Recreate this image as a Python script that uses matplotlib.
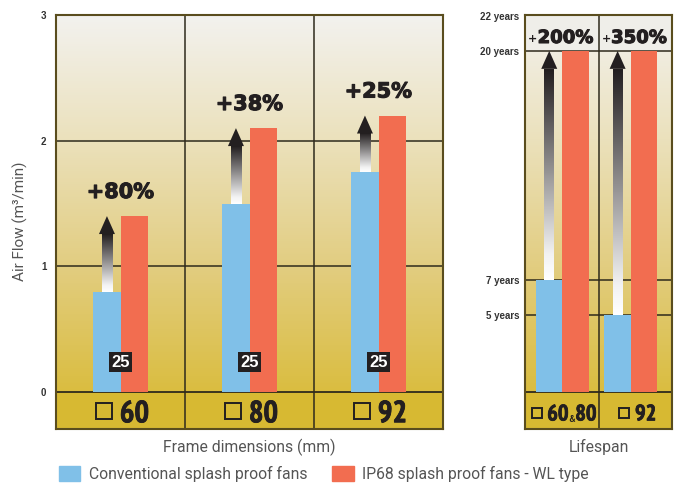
#!/usr/bin/env python3

import matplotlib
matplotlib.use("Agg")
import matplotlib.pyplot as plt
import matplotlib.patheffects as pe
import numpy as np
from matplotlib import font_manager
from matplotlib.colors import LinearSegmentedColormap
from matplotlib.patches import Patch

# Air flow panel (m3/min), one entry per frame size
frame_sizes = ["60", "80", "92"]
airflow_conventional = [0.8, 1.5, 1.75]
airflow_ip68 = [1.4, 2.1, 2.2]
airflow_gain = ["+80%", "+38%", "+25%"]
frame_depth = "25"
airflow_ticks = [0, 1, 2, 3]

# Lifespan panel (years)
lifespan_sizes = [("60", "80"), ("92",)]
lifespan_conventional = [7, 5]
lifespan_ip68 = [20, 20]
lifespan_gain = ["200%", "350%"]
lifespan_ticks = [5, 7, 20, 22]

BLUE = "#80C0E8"
RED = "#F26D50"
BAND = "#D7B932"
INK = "#231F20"
GRID = "#2E2A1C"
LABEL = "#555555"


def pick_family(candidates: list, min_weight: int = 400) -> str:
    """Returns the first installed family that has the wanted weight."""
    found = set()
    for f in font_manager.fontManager.ttflist:
        w = f.weight
        if isinstance(w, str):
            w = font_manager.weight_dict.get(w, 400)
        if w >= min_weight:
            found.add(f.name)
    for name in candidates:
        if name in found:
            return name
    return "DejaVu Sans"


NARROW_FONT = pick_family(["Liberation Sans Narrow", "PT Sans Narrow",
                           "Arial Narrow", "Nimbus Sans Narrow",
                           "Liberation Sans"], 700)
TICK_FONT = pick_family(["Liberation Sans", "Arimo"], 700)
BIG_FONT = "DejaVu Sans"
HEAVY = [pe.withStroke(linewidth=0.8, foreground=INK)]
HEAVIER = [pe.withStroke(linewidth=0.6, foreground=INK)]

bg_cmap = LinearSegmentedColormap.from_list(
    "panel", [(0.0, "#DABD40"), (0.33, "#E2CD80"),
              (0.67, "#EBE1BC"), (1.0, "#F3F2EF")])
arrow_cmap = LinearSegmentedColormap.from_list(
    "arrow", [(0.0, "#FFFFFF"), (0.12, "#F2F2F2"), (1.0, INK)])


def style_panel(ax, ylim: tuple, base: float, nsec: int) -> None:
    """Gradient background, bottom band, frame and dividers."""
    ax.imshow(np.linspace(0, 1, 256).reshape(-1, 1), origin="lower",
              cmap=bg_cmap, aspect="auto", zorder=0,
              extent=(0, nsec, base, ylim[1]))
    ax.axhspan(ylim[0], base, color=BAND, zorder=0.5, lw=0)
    ax.axhline(base, color=GRID, lw=1.3, zorder=1.5)
    for i in range(1, nsec):
        ax.axvline(i, color=GRID, lw=1.1, zorder=1.5)
    ax.set_xlim(0, nsec)
    ax.set_ylim(*ylim)
    ax.set_xticks([])
    ax.tick_params(axis="y", length=0, labelsize=7, labelcolor="#333333")
    for spine in ax.spines.values():
        spine.set_color("#5A4D1E")
        spine.set_linewidth(1.5)
        spine.set_path_effects([
            pe.SimplePatchShadow(offset=(1.2, -1.2), shadow_rgbFace="#888888",
                                 alpha=0.7),
            pe.Normal()])


def bold_ticks(ax) -> None:
    for label in ax.get_yticklabels():
        label.set_fontfamily(TICK_FONT)
        label.set_fontweight("bold")


def gain_arrow(ax, x: float, y0: float, y1: float, shaft_w: float,
               head_w: float, head_h: float) -> None:
    """Arrow from the conventional bar top up to the IP68 bar top."""
    ax.imshow(np.linspace(0, 1, 128).reshape(-1, 1), origin="lower",
              cmap=arrow_cmap, aspect="auto", zorder=3,
              extent=(x - shaft_w / 2, x + shaft_w / 2, y0, y1 - head_h))
    ax.fill([x - head_w / 2, x + head_w / 2, x],
            [y1 - head_h, y1 - head_h, y1], color=INK, lw=0, zorder=3)


def size_label(ax, x_box: float, x_num: float, y_box: float, y_num: float,
               parts: tuple, box_ms: float, size: float) -> None:
    """Square symbol followed by the frame size in the bottom band."""
    ax.plot([x_box], [y_box], marker="s", ms=box_ms, mfc="none", mec=INK,
            mew=1.4, zorder=4)
    style = dict(fontweight="bold", family=NARROW_FONT, color=INK)
    txt = ax.text(x_num, y_num, parts[0], ha="left", va="baseline",
                  fontsize=size, zorder=4, path_effects=HEAVIER, **style)
    for part in parts[1:]:
        amp = ax.annotate("&", xy=(1, 0), xycoords=txt, ha="left",
                          va="bottom", fontsize=size * 0.45, **style)
        txt = ax.annotate(part, xy=(1, 0), xycoords=amp, ha="left",
                          va="bottom", fontsize=size, path_effects=HEAVIER,
                          **style)


def main() -> None:
    plt.rcParams["font.family"] = ["Roboto", "DejaVu Sans"]
    fig = plt.figure(figsize=(6.79, 4.86), dpi=100)

    # ---- air flow panel ----
    ax = fig.add_axes([56 / 679, 57 / 486, 387 / 679, 414 / 486])
    air_ylim = (-0.294, 3.0)
    style_panel(ax, air_ylim, 0.0, len(frame_sizes))
    for y in airflow_ticks[1:-1]:
        ax.axhline(y, color=GRID, lw=1.1, zorder=1.5)
    ax.set_yticks(airflow_ticks)
    ax.set_yticklabels([str(t) for t in airflow_ticks])
    ax.tick_params(axis="y", pad=7)
    bold_ticks(ax)

    centers = np.arange(len(frame_sizes)) + 0.5
    bw = 0.21
    ax.bar(centers - bw / 2, airflow_conventional, bw, color=BLUE, zorder=2)
    ax.bar(centers + bw / 2, airflow_ip68, bw, color=RED, zorder=2)
    for i, c in enumerate(centers):
        gain_arrow(ax, c - bw / 2, airflow_conventional[i], airflow_ip68[i],
                   0.078, 0.124, 0.143)
        ax.annotate(airflow_gain[i], (c, airflow_ip68[i]), xytext=(0, 13),
                    textcoords="offset points", ha="center", va="baseline",
                    fontsize=15, fontweight="bold", family=BIG_FONT,
                    color=INK, zorder=4, path_effects=HEAVY)
        ax.text(c, 0.239, frame_depth, ha="center", va="center",
                fontsize=12, fontweight="bold", family=TICK_FONT,
                color="white", zorder=4,
                bbox=dict(boxstyle="square,pad=0.15", fc=INK, ec="none"))
        size_label(ax, c - 0.13, c - 0.005, -0.151, -0.24,
                   (frame_sizes[i],), 11.5, 22)
    ax.set_xlabel("Frame dimensions (mm)", fontsize=11.3, color=LABEL,
                  labelpad=7)

    # ---- lifespan panel ----
    ax2 = fig.add_axes([525 / 679, 57 / 486, 147 / 679, 414 / 486])
    life_ylim = (-1.49, 22.04)
    base = 0.6
    style_panel(ax2, life_ylim, base, len(lifespan_sizes))
    ax2.axhspan(20, life_ylim[1], color="#EFEEE9", zorder=0.6, lw=0)
    for y in lifespan_ticks[:-1]:
        ax2.axhline(y, color=GRID, lw=1.1, zorder=1.5)
    ax2.set_yticks(lifespan_ticks)
    ax2.set_yticklabels([f"{t} years" for t in lifespan_ticks])
    ax2.tick_params(axis="y", pad=4)
    bold_ticks(ax2)

    groups = np.array([0.51, 1.44])
    bw2 = 0.36
    conv = np.array(lifespan_conventional) - base
    ip68 = np.array(lifespan_ip68) - base
    ax2.bar(groups - bw2 / 2, conv, bw2, bottom=base, color=BLUE, zorder=2)
    ax2.bar(groups + bw2 / 2, ip68, bw2, bottom=base, color=RED, zorder=2)
    sec = np.arange(len(lifespan_sizes)) + 0.5
    for i, g in enumerate(groups):
        gain_arrow(ax2, g - bw2 / 2, lifespan_conventional[i],
                   lifespan_ip68[i], 0.136, 0.218, 1.02)
        pct = ax2.text(sec[i] + 0.05, 20.45, lifespan_gain[i], ha="center",
                       va="baseline", fontsize=13, fontweight="bold",
                       family=BIG_FONT, color=INK, zorder=4,
                       path_effects=HEAVY)
        ax2.annotate("+", xy=(0, 0.45), xycoords=pct, ha="right",
                     va="center", fontsize=8, fontweight="bold",
                     family=BIG_FONT, color=INK)
    size_label(ax2, 0.167, 0.303, -0.556, -1.0, lifespan_sizes[0], 7, 16)
    size_label(ax2, 1.347, 1.497, -0.556, -1.0, lifespan_sizes[1], 7, 16)
    ax2.set_xlabel("Lifespan", fontsize=11.3, color=LABEL, labelpad=7)

    fig.text(20 / 679, 1 - 221 / 486, "Air Flow (m³/min)", rotation=90,
             ha="center", va="center", fontsize=11, color=LABEL)

    handles = [Patch(color=BLUE), Patch(color=RED)]
    fig.legend(handles, ["Conventional splash proof fans",
                         "IP68 splash proof fans - WL type"],
               loc="center left", bbox_to_anchor=(59 / 679, 1 - 474 / 486),
               ncol=2, frameon=False, fontsize=11.3, handlelength=1.35,
               handleheight=1.05, handletextpad=0.55, columnspacing=1.6,
               borderpad=0, borderaxespad=0, labelcolor=LABEL)

    fig.savefig("out.png", dpi=100)


if __name__ == "__main__":
    main()
